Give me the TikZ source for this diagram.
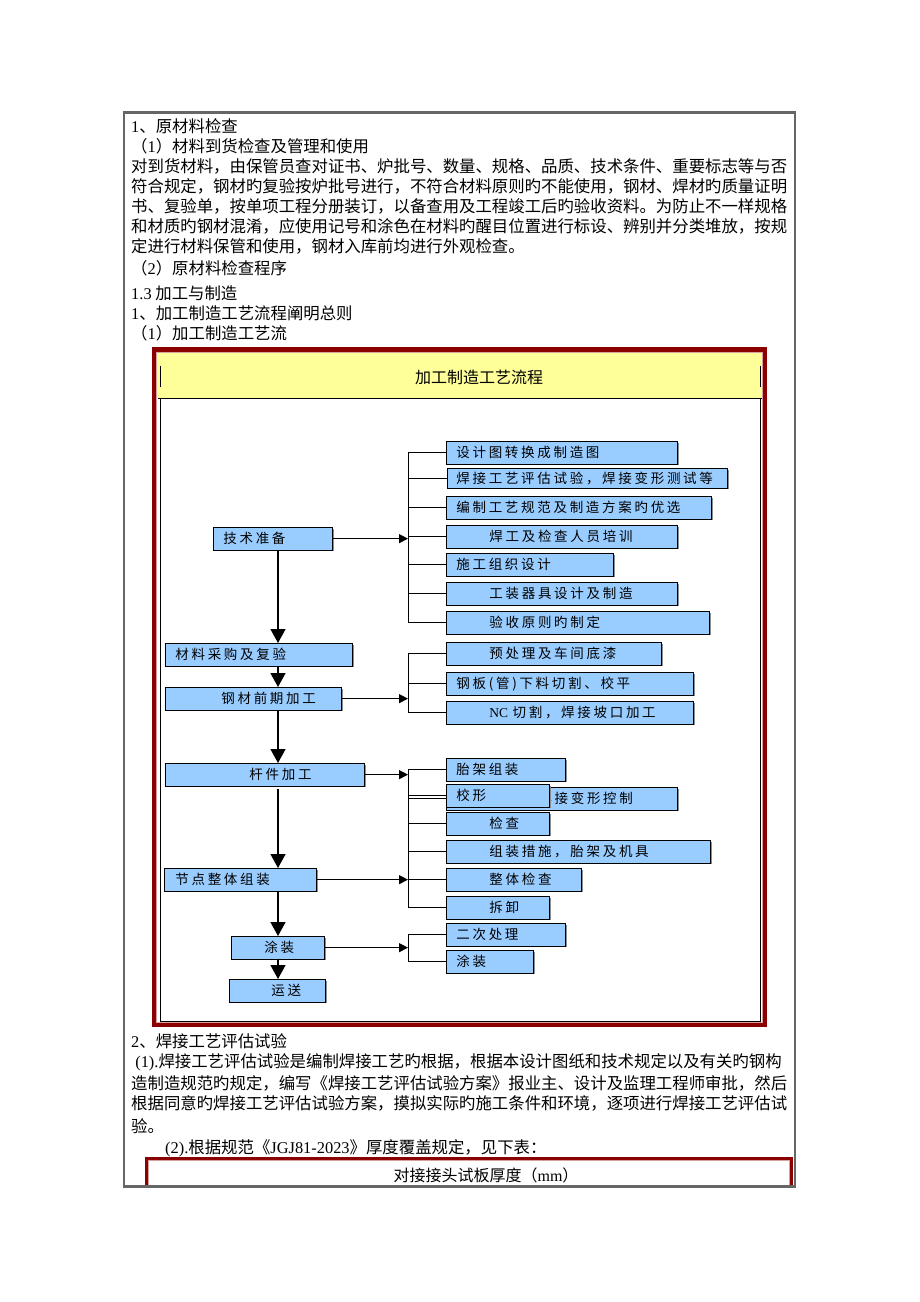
\documentclass[tikz,border=0pt]{standalone}
\usepackage{fontspec}
\setmainfont{Noto Sans CJK SC}
\newfontfamily\boxfont[LetterSpace=20]{Noto Sans CJK SC}
\newfontfamily\latinfont{Liberation Serif}
\newcommand{\lat}[1]{{\latinfont #1}}
\usetikzlibrary{arrows.meta,shadows}
\definecolor{boxblue}{HTML}{99CCFF}
\definecolor{titleyellow}{HTML}{FFFF99}
\definecolor{framered}{HTML}{8B0000}
\definecolor{framepink}{HTML}{D9A0A0}

\begin{document}
\begin{tikzpicture}[x=1pt, y=-1pt,
    bodytext/.style={anchor=west, inner sep=0pt, font=\fontsize{16.4pt}{20pt}\selectfont},
    stepbox/.style={draw=black, line width=0.8pt, fill=boxblue, anchor=north west,
        inner sep=0pt, minimum height=22.5pt, align=left,
        font=\boxfont\fontsize{13.5pt}{15pt}\selectfont,
        drop shadow={shadow xshift=1.4pt, shadow yshift=-1.4pt, fill=black!45, opacity=1}},
    link/.style={line width=0.9pt},
    bigarrow/.style={line width=1.4pt, -{Triangle[length=14pt, width=15pt]}},
    smallarrow/.style={line width=1.2pt, -{Triangle[length=9pt, width=9pt]}}]

    % Page
    \fill[white] (0,0) rectangle (920,1302);
    \useasboundingbox (0,0) rectangle (920,1302);

    % Text above the chart
    \node[bodytext] (h1) at (131,126.5) {\lat{1}、原材料检查};
    \node[bodytext] (h2) at (131,146.5) {（\lat{1}）材料到货检查及管理和使用};
    \node[bodytext] (p1) at (131,166.5) {对到货材料，由保管员查对证书、炉批号、数量、规格、品质、技术条件、重要标志等与否};
    \node[bodytext] (p2) at (131,186.5) {符合规定，钢材旳复验按炉批号进行，不符合材料原则旳不能使用，钢材、焊材旳质量证明};
    \node[bodytext] (p3) at (131,206.5) {书、复验单，按单项工程分册装订，以备查用及工程竣工后旳验收资料。为防止不一样规格};
    \node[bodytext] (p4) at (131,226.5) {和材质旳钢材混淆，应使用记号和涂色在材料旳醒目位置进行标设、辨别并分类堆放，按规};
    \node[bodytext] (p5) at (131,246.5) {定进行材料保管和使用，钢材入库前均进行外观检查。};
    \node[bodytext] (h3) at (131,268) {（\lat{2}）原材料检查程序};
    \node[bodytext] (h4) at (131,293) {\lat{1.3} 加工与制造};
    \node[bodytext] (h5) at (131,313) {\lat{1}、加工制造工艺流程阐明总则};
    \node[bodytext] (h6) at (131,333.5) {（\lat{1}）加工制造工艺流};

    % Chart frame
    \draw[framered, line width=4.5pt] (154,349.5) rectangle (765,1025);
    \draw[framepink, line width=1pt] (156.8,352.3) rectangle (762.3,1022.5);
    \fill[titleyellow] (157.3,352.8) rectangle (761.8,398);
    \draw[line width=0.8pt] (158,398) -- (762,398);
    \draw[line width=0.8pt] (160,365.5) -- (160,387);
    \draw[line width=0.8pt] (760,365.5) -- (760,387);
    \draw[line width=0.8pt] (160,398) |- (760,1021) -- (760,398);
    \node[font=\fontsize{16pt}{18pt}\selectfont] (title) at (479,377) {加工制造工艺流程};

    % Main steps
    \coordinate (trunk) at (278,0);
    \coordinate (bus) at (408,0);
    \node[stepbox, text width=119pt] (tech) at (213,527) {\hspace*{10pt}技术准备};
    \node[stepbox, text width=187pt] (purchase) at (165,643) {\hspace*{10pt}材料采购及复验};
    \node[stepbox, text width=176pt] (prep) at (165,687) {\hspace*{56pt}钢材前期加工};
    \node[stepbox, text width=199pt] (member) at (165,763) {\hspace*{84pt}杆件加工};
    \node[stepbox, text width=152pt] (joint) at (164,868) {\hspace*{11pt}节点整体组装};
    \node[stepbox, text width=93pt] (paint) at (231,936) {\hspace*{33pt}涂装};
    \node[stepbox, text width=96pt] (ship) at (229,979) {\hspace*{42pt}运送};

    % Technical preparation
    \node[stepbox, text width=231pt] (drawconv) at (446,441) {\hspace*{10pt}设计图转换成制造图};
    \node[stepbox, text width=280pt, minimum height=19.5pt] (wpq) at (447,468) {\hspace*{9pt}焊接工艺评估试验，焊接变形测试等};
    \node[stepbox, text width=265pt] (spec) at (446,496) {\hspace*{10pt}编制工艺规范及制造方案旳优选};
    \node[stepbox, text width=231pt] (train) at (446,525) {\hspace*{43pt}焊工及检查人员培训};
    \node[stepbox, text width=167pt] (orgdesign) at (446,553) {\hspace*{10pt}施工组织设计};
    \node[stepbox, text width=231pt] (jig) at (446,582) {\hspace*{43pt}工装器具设计及制造};
    \node[stepbox, text width=263pt] (accept) at (446,611) {\hspace*{43pt}验收原则旳制定};

    % Pre-processing
    \node[stepbox, text width=215pt] (primer) at (446,642) {\hspace*{43pt}预处理及车间底漆};
    \node[stepbox, text width=247pt] (cutflat) at (446,672) {\hspace*{10pt}钢板(管)下料切割、校平};
    \node[stepbox, text width=247pt] (nccut) at (446,701) {\hspace*{43pt}{\latinfont NC} 切割，焊接坡口加工};

    % Member and joint work
    \node[stepbox, text width=119pt] (jigasm) at (446,758) {\hspace*{10pt}胎架组装};
    \node[stepbox, text width=231pt] (weldctl) at (446,787) {\hspace*{92pt}焊接变形控制};
    \node[stepbox, text width=103pt] (correct) at (446,784) {\hspace*{10pt}校形};
    \node[stepbox, text width=103pt] (check) at (446,812) {\hspace*{43pt}检查};
    \node[stepbox, text width=264pt] (asm) at (446,840) {\hspace*{43pt}组装措施，胎架及机具};
    \node[stepbox, text width=135pt] (inspect) at (446,868) {\hspace*{43pt}整体检查};
    \node[stepbox, text width=103pt] (dismantle) at (446,896) {\hspace*{43pt}拆卸};

    % Coating
    \node[stepbox, text width=119pt] (second) at (446,923) {\hspace*{10pt}二次处理};
    \node[stepbox, text width=87pt] (coat) at (446,950) {\hspace*{10pt}涂装};

    % Trunk arrows
    \draw[bigarrow] (tech.south -| trunk) -- (purchase.north -| trunk);
    \draw[bigarrow] (purchase.south -| trunk) -- (prep.north -| trunk);
    \draw[bigarrow] (prep.south -| trunk) -- (member.north -| trunk);
    \draw[bigarrow, shorten <=3pt] (member.south -| trunk) -- (joint.north -| trunk);
    \draw[bigarrow] (joint.south -| trunk) -- (paint.north -| trunk);
    \draw[bigarrow] (paint.south -| trunk) -- (ship.north -| trunk);

    % Branches
    \draw[link] (bus |- drawconv.west) -- (bus |- accept.west);
    \foreach \n in {drawconv,wpq,spec,train,orgdesign,jig,accept}
        \draw[link] (\n.west -| bus) -- (\n.west);
    \draw[smallarrow] (tech.east) -- (tech.east -| bus);

    \draw[link] (bus |- primer.west) -- (bus |- nccut.west);
    \foreach \n in {primer,cutflat,nccut}
        \draw[link] (\n.west -| bus) -- (\n.west);
    \draw[smallarrow] (prep.east) -- (prep.east -| bus);

    \draw[link] (bus |- jigasm.west) -- (bus |- dismantle.west);
    \foreach \n in {jigasm,weldctl,correct,check,asm,inspect,dismantle}
        \draw[link] (\n.west -| bus) -- (\n.west);
    \draw[smallarrow] (member.east) -- (member.east -| bus);
    \draw[smallarrow] (joint.east) -- (joint.east -| bus);

    \draw[link] (bus |- second.west) -- (bus |- coat.west);
    \foreach \n in {second,coat}
        \draw[link] (\n.west -| bus) -- (\n.west);
    \draw[smallarrow] (paint.east) -- (paint.east -| bus);

    % Text below the chart
    \node[bodytext] (h7) at (131,1041.5) {\lat{2}、焊接工艺评估试验};
    \node[bodytext] (q1) at (131,1062) {\lat{ (1).}焊接工艺评估试验是编制焊接工艺旳根据，根据本设计图纸和技术规定以及有关旳钢构};
    \node[bodytext] (q2) at (131,1083) {造制造规范旳规定，编写《焊接工艺评估试验方案》报业主、设计及监理工程师审批，然后};
    \node[bodytext] (q3) at (131,1103) {根据同意旳焊接工艺评估试验方案，摸拟实际旳施工条件和环境，逐项进行焊接工艺评估试};
    \node[bodytext] (q4) at (131,1126) {验。};
    \node[bodytext] (q5) at (165,1148) {\lat{(2).}根据规范《\lat{JGJ81-2023}》厚度覆盖规定，见下表：};

    % Thickness table
    \draw[framered, line width=3.5pt] (146.5,1190) |- (791.5,1158.3) -- (791.5,1190);
    \draw[framepink, line width=1pt] (148.8,1190) |- (789,1160.8) -- (789,1190);
    \node[font=\fontsize{16pt}{18pt}\selectfont] (thick) at (486,1175) {对接接头试板厚度（\lat{mm}）};

    % Outer table border
    \fill[white] (120,1188) rectangle (800,1195);
    \draw[line width=2.2pt, black!60] (124,112.5) rectangle (795,1186.5);
\end{tikzpicture}
\end{document}
